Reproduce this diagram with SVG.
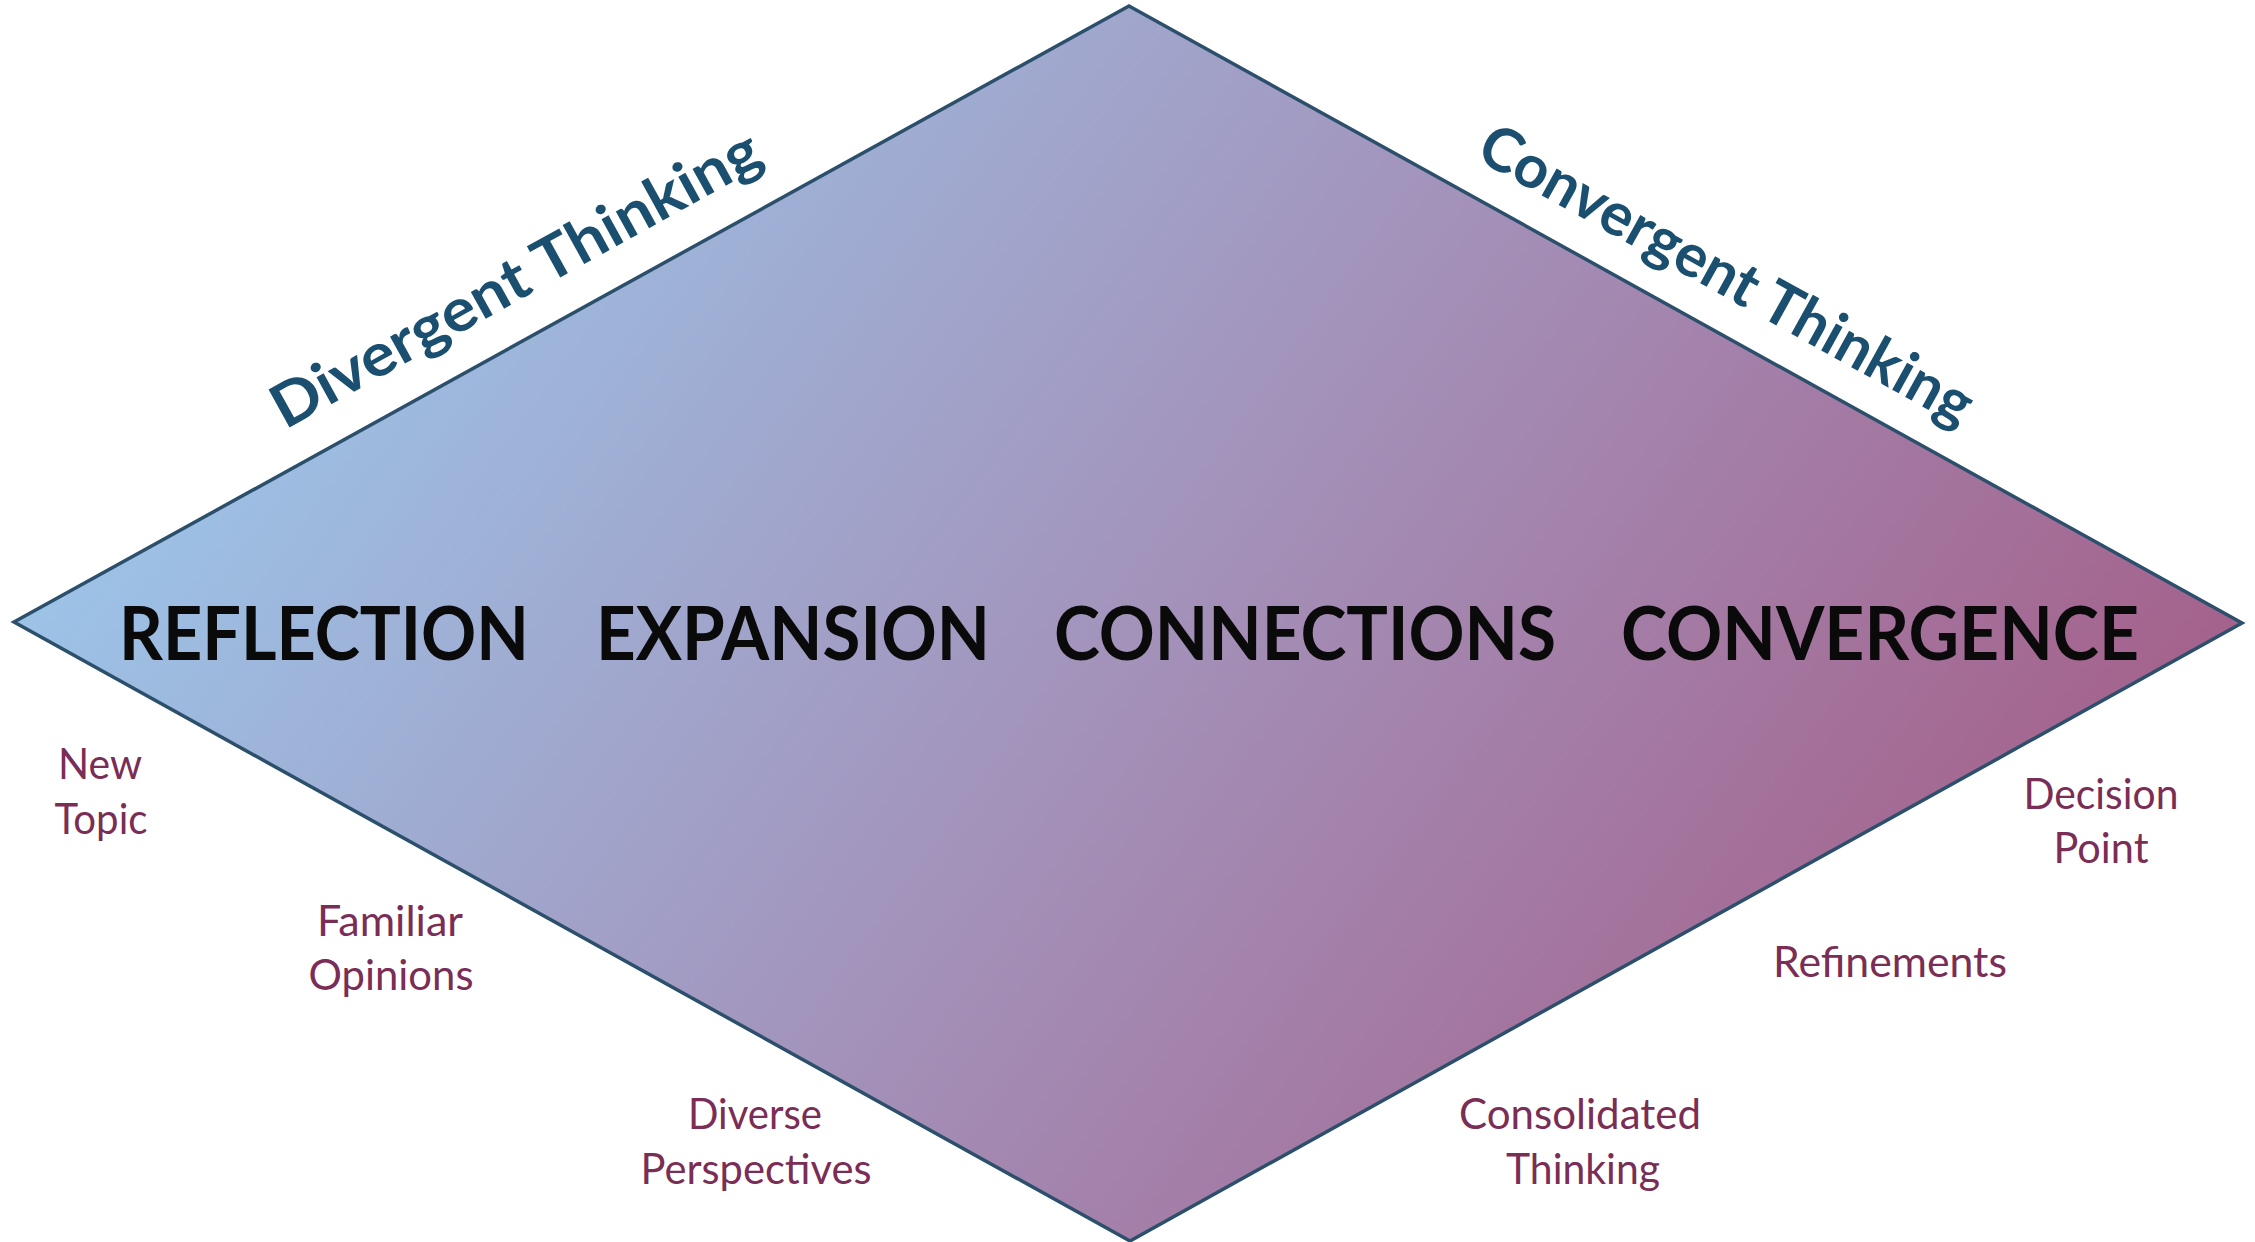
<svg xmlns="http://www.w3.org/2000/svg" width="2255" height="1242" viewBox="0 0 2255 1242">
  <defs>
    <linearGradient id="diamondFill" gradientUnits="userSpaceOnUse" x1="15" y1="622" x2="1477" y2="1680">
      <stop offset="0" stop-color="#9cc3e7"/>
      <stop offset="0.5" stop-color="#a393bb"/>
      <stop offset="1" stop-color="#a4628c"/>
    </linearGradient>
  </defs>
  <style>
    .phase { font-family: Lato, "Liberation Sans", sans-serif; font-weight: 700; font-size: 74px; fill: #0a0a0a; }
    .side { font-family: Lato, "Liberation Sans", sans-serif; font-weight: 700; font-size: 60px; fill: #1b4f6f; }
    .step { font-family: Lato, "Liberation Sans", sans-serif; font-weight: 400; font-size: 42px; fill: #7a2d55; text-anchor: middle; }
  </style>
  <rect x="0" y="0" width="2255" height="1242" fill="#ffffff"/>

  <g id="diamond">
    <polygon points="1129,6 2242,623 1130,1241 14,622" fill="url(#diamondFill)" stroke="#2c4f6b" stroke-width="3.5" stroke-linejoin="miter"/>
  </g>

  <g id="connectors"/>

  <g id="divergent-thinking">
    <text class="side" transform="translate(285,430) rotate(-29)" x="0" y="0" textLength="550" lengthAdjust="spacingAndGlyphs">Divergent Thinking</text>
  </g>
  <g id="convergent-thinking">
    <text class="side" transform="translate(1474,158) rotate(29)" x="0" y="0" textLength="555" lengthAdjust="spacingAndGlyphs">Convergent Thinking</text>
  </g>

  <g id="reflection">
    <text class="phase" x="119" y="660" textLength="410" lengthAdjust="spacingAndGlyphs">REFLECTION</text>
  </g>
  <g id="expansion">
    <text class="phase" x="596" y="660" textLength="394" lengthAdjust="spacingAndGlyphs">EXPANSION</text>
  </g>
  <g id="connections">
    <text class="phase" x="1054" y="660" textLength="502" lengthAdjust="spacingAndGlyphs">CONNECTIONS</text>
  </g>
  <g id="convergence">
    <text class="phase" x="1621" y="660" textLength="518" lengthAdjust="spacingAndGlyphs">CONVERGENCE</text>
  </g>

  <g id="new-topic">
    <text class="step" x="100" y="779" textLength="84" lengthAdjust="spacingAndGlyphs">New</text>
    <text class="step" x="101" y="834" textLength="93" lengthAdjust="spacingAndGlyphs">Topic</text>
  </g>
  <g id="familiar-opinions">
    <text class="step" x="390" y="936" textLength="146" lengthAdjust="spacingAndGlyphs">Familiar</text>
    <text class="step" x="391" y="990" textLength="165" lengthAdjust="spacingAndGlyphs">Opinions</text>
  </g>
  <g id="diverse-perspectives">
    <text class="step" x="755" y="1129" textLength="134" lengthAdjust="spacingAndGlyphs">Diverse</text>
    <text class="step" x="756" y="1184" textLength="231" lengthAdjust="spacingAndGlyphs">Perspectives</text>
  </g>
  <g id="consolidated-thinking">
    <text class="step" x="1580" y="1129" textLength="242" lengthAdjust="spacingAndGlyphs">Consolidated</text>
    <text class="step" x="1583" y="1184" textLength="154" lengthAdjust="spacingAndGlyphs">Thinking</text>
  </g>
  <g id="refinements">
    <text class="step" x="1890" y="977" textLength="234" lengthAdjust="spacingAndGlyphs">Refinements</text>
  </g>
  <g id="decision-point">
    <text class="step" x="2101" y="809" textLength="155" lengthAdjust="spacingAndGlyphs">Decision</text>
    <text class="step" x="2101" y="863" textLength="95" lengthAdjust="spacingAndGlyphs">Point</text>
  </g>
</svg>
